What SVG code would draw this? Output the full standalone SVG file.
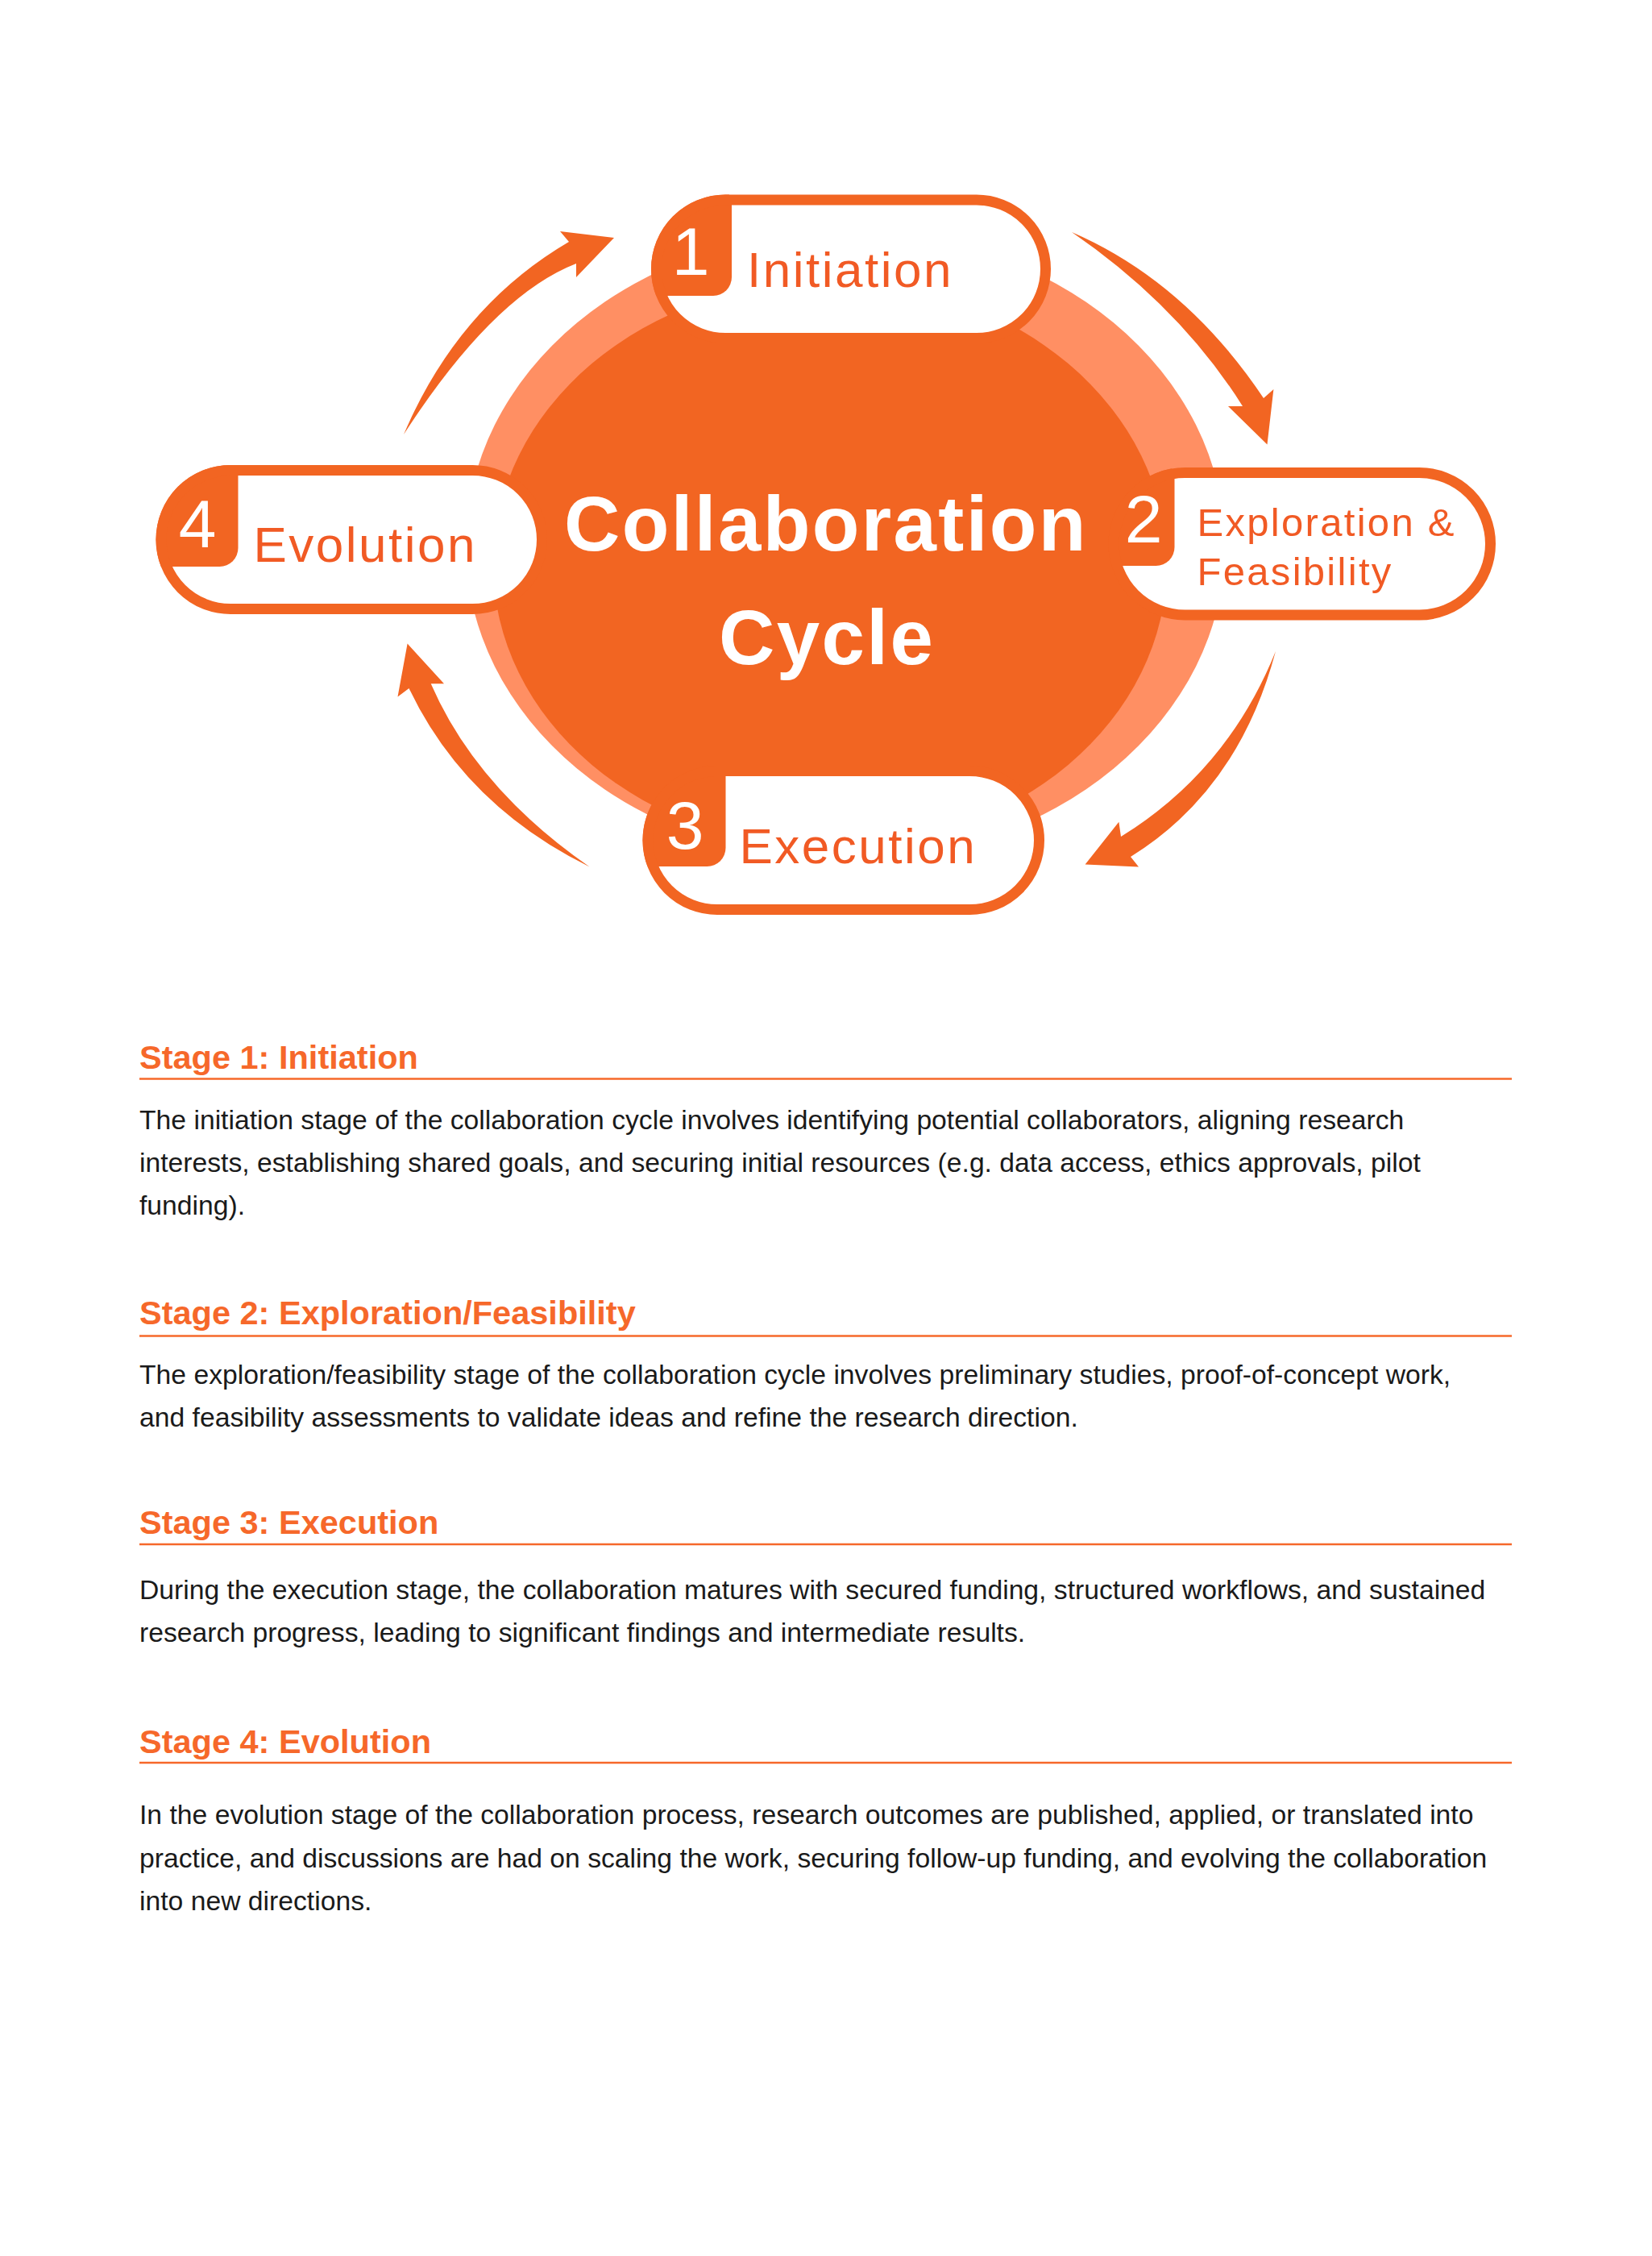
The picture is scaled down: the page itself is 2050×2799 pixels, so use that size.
<svg xmlns="http://www.w3.org/2000/svg" width="2050" height="2799" viewBox="0 0 2050 2799">
<defs>
<style>
.bg{fill:#ffffff}
.ring{fill:#FF8F63}
.core{fill:#F26522}
.pill{fill:#ffffff}
.pillStroke{fill:none;stroke:#F26522;stroke-width:13}
.badge{fill:#F26522}
.digit{font-family:"Liberation Sans",Arial,sans-serif;font-size:84px;fill:#ffffff;text-anchor:middle}
.label{font-family:"Liberation Sans",Arial,sans-serif;font-size:62px;fill:#F15A24;letter-spacing:2.5px}
.label2{font-family:"Liberation Sans",Arial,sans-serif;font-size:49px;fill:#F15A24;letter-spacing:2.3px}
.center{font-family:"Liberation Sans",Arial,sans-serif;font-size:96px;font-weight:bold;fill:#ffffff;letter-spacing:2.4px}
.arrow{fill:#F26522}
.head{font-family:"Liberation Sans",Arial,sans-serif;font-size:41.5px;font-weight:bold;fill:#F6682A}
.rule{stroke:#F6682A;stroke-width:2.5}
.body{font-family:"Liberation Sans",Arial,sans-serif;font-size:33.7px;fill:#1A1A1A}
</style>
<clipPath id="clipInit"><rect x="808" y="241.5" width="496" height="184.5" rx="92.25"/></clipPath>
<clipPath id="clipExpl"><rect x="1375.5" y="580" width="480.5" height="189.5" rx="94.75"/></clipPath>
<clipPath id="clipExec"><rect x="797.5" y="950" width="498.5" height="185" rx="92.5"/></clipPath>
<clipPath id="clipEvol"><rect x="193.5" y="577" width="485.5" height="185" rx="92.5"/></clipPath>
</defs>
<rect class="bg" x="0" y="0" width="2050" height="2799"/>

<g id="center-hub">
<ellipse class="ring" cx="1049" cy="677" rx="471" ry="391"/>
<ellipse class="core" cx="1030" cy="700" rx="418" ry="352"/>
</g>

<g id="connectors">
<path class="arrow" d="M 501 539 Q 568.5 380.5 706 300 L 695 287 L 762 295 L 715 344 L 715 327 Q 612 367 501 539 Z"/>
<path class="arrow" d="M 1330 288 Q 1471 349 1568 494 L 1580.4 483 L 1572.5 551.4 L 1524 504 L 1542 504 Q 1464 380 1330 288 Z"/>
<path class="arrow" d="M 1583 808 Q 1537 980 1403 1063 L 1413 1075.5 L 1346.6 1072.5 L 1388.4 1019.7 L 1391 1038 Q 1523 957 1583 808 Z"/>
<path class="arrow" d="M 731.6 1075.5 Q 576.5 999 507.5 854 L 493.5 864.6 L 505.6 798.6 L 551 848.3 L 534.7 848.3 Q 591 978 731.6 1075.5 Z"/>
</g>

<g id="node-initiation">
<rect class="pill" x="814.5" y="248" width="483" height="171.5" rx="85.75"/>
<rect class="badge" clip-path="url(#clipInit)" x="780" y="230" width="128" height="137" rx="23"/>
<rect class="pillStroke" x="814.5" y="248" width="483" height="171.5" rx="85.75"/>
<text class="digit" x="857" y="341">1</text>
<text class="label" x="927" y="356">Initiation</text>
</g>

<g id="node-exploration">
<rect class="pill" x="1382" y="586.5" width="467.5" height="176.5" rx="88.25"/>
<rect class="badge" clip-path="url(#clipExpl)" x="1350" y="570" width="107.5" height="132" rx="23"/>
<rect class="pillStroke" x="1382" y="586.5" width="467.5" height="176.5" rx="88.25"/>
<text class="digit" x="1419" y="672.6">2</text>
<text class="label2" x="1485.5" y="665">Exploration &amp;</text>
<text class="label2" x="1485.5" y="726">Feasibility</text>
</g>

<g id="node-execution">
<rect class="pill" x="804" y="956.5" width="485.5" height="172" rx="86"/>
<rect class="badge" clip-path="url(#clipExec)" x="780" y="940" width="120.5" height="135" rx="23"/>
<rect class="pillStroke" x="804" y="956.5" width="485.5" height="172" rx="86"/>
<text class="digit" x="850" y="1053">3</text>
<text class="label" x="917.5" y="1071">Execution</text>
</g>

<g id="node-evolution">
<rect class="pill" x="200" y="583.5" width="472.5" height="172" rx="86"/>
<rect class="badge" clip-path="url(#clipEvol)" x="170" y="560" width="125.5" height="143" rx="23"/>
<rect class="pillStroke" x="200" y="583.5" width="472.5" height="172" rx="86"/>
<text class="digit" x="245" y="678.6">4</text>
<text class="label" x="314.5" y="697">Evolution</text>
</g>

<g id="node-center-title">
<text class="center" x="700" y="683">Collaboration</text>
<text class="center" x="892" y="824">Cycle</text>
</g>

<g id="stage-descriptions">
<text class="head" x="173" y="1325.5">Stage 1: Initiation</text>
<line class="rule" x1="173" y1="1338.5" x2="1876" y2="1338.5"/>
<text class="body" x="173" y="1400.5">The initiation stage of the collaboration cycle involves identifying potential collaborators, aligning research</text>
<text class="body" x="173" y="1454">interests, establishing shared goals, and securing initial resources (e.g. data access, ethics approvals, pilot</text>
<text class="body" x="173" y="1507">funding).</text>

<text class="head" x="173" y="1642.5">Stage 2: Exploration/Feasibility</text>
<line class="rule" x1="173" y1="1657.5" x2="1876" y2="1657.5"/>
<text class="body" x="173" y="1716.5">The exploration/feasibility stage of the collaboration cycle involves preliminary studies, proof-of-concept work,</text>
<text class="body" x="173" y="1770">and feasibility assessments to validate ideas and refine the research direction.</text>

<text class="head" x="173" y="1903">Stage 3: Execution</text>
<line class="rule" x1="173" y1="1916" x2="1876" y2="1916"/>
<text class="body" x="173" y="1983.5">During the execution stage, the collaboration matures with secured funding, structured workflows, and sustained</text>
<text class="body" x="173" y="2037">research progress, leading to significant findings and intermediate results.</text>

<text class="head" x="173" y="2174.5">Stage 4: Evolution</text>
<line class="rule" x1="173" y1="2187" x2="1876" y2="2187"/>
<text class="body" x="173" y="2263">In the evolution stage of the collaboration process, research outcomes are published, applied, or translated into</text>
<text class="body" x="173" y="2316.5">practice, and discussions are had on scaling the work, securing follow-up funding, and evolving the collaboration</text>
<text class="body" x="173" y="2370">into new directions.</text>
</g>
</svg>
